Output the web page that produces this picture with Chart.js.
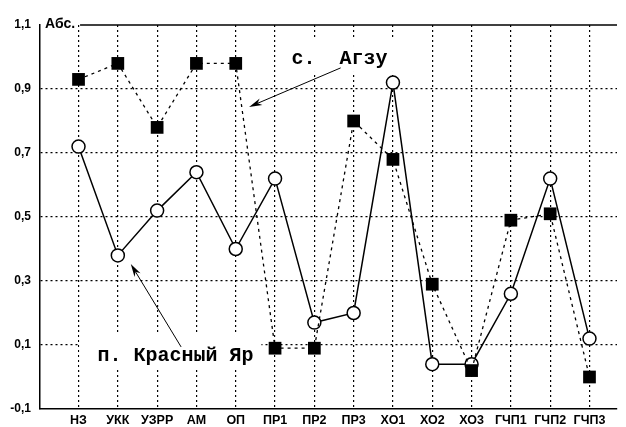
<!DOCTYPE html>
<html><head><meta charset="utf-8">
<script src="https://cdn.jsdelivr.net/npm/chart.js@4"></script>
<style>html,body{margin:0;padding:0;background:#fff;}#wrap{width:626px;height:427px;}</style>
</head><body><div id="wrap"><canvas id="c" width="626" height="427"></canvas></div>
<script>
const categories = ['НЗ','УКК','УЗРР','АМ','ОП','ПР1','ПР2','ПР3','ХО1','ХО2','ХО3','ГЧП1','ГЧП2','ГЧП3'];
const krasnyYar = [0.72,0.38,0.52,0.64,0.40,0.62,0.17,0.20,0.92,0.04,0.04,0.26,0.62,0.12];
const agzu = [0.93,0.98,0.78,0.98,0.98,0.09,0.09,0.80,0.68,0.29,0.02,0.49,0.51,0.00];
const yTicks = [-0.1,0.1,0.3,0.5,0.7,0.9,1.1];
const yLabel = 'Абс.';
const labelAgzu = 'с.  Агзу';
const labelKY = 'п. Красный Яр';

const toPts = arr => arr.map((v,i)=>({x:i,y:v}));

function arrow(ctx,x1,y1,x2,y2){
  const ang=Math.atan2(y2-y1,x2-x1), L=13, W=3.5;
  ctx.beginPath();ctx.moveTo(x1,y1);ctx.lineTo(x2-Math.cos(ang)*L*0.7,y2-Math.sin(ang)*L*0.7);ctx.stroke();
  ctx.beginPath();
  ctx.moveTo(x2,y2);
  ctx.lineTo(x2-L*Math.cos(ang)+W*Math.sin(ang), y2-L*Math.sin(ang)-W*Math.cos(ang));
  ctx.lineTo(x2-L*0.7*Math.cos(ang), y2-L*0.7*Math.sin(ang));
  ctx.lineTo(x2-L*Math.cos(ang)-W*Math.sin(ang), y2-L*Math.sin(ang)+W*Math.cos(ang));
  ctx.closePath();ctx.fill();
}

const deco = {
  id:'deco',
  beforeDatasetsDraw(chart){
    const {ctx,scales:{x,y}}=chart;
    ctx.save();
    ctx.font='bold 20px "Liberation Mono", "Courier New", monospace';
    ctx.textBaseline='middle';ctx.textAlign='left';
    const items=[[labelAgzu,x.getPixelForValue(5.42),y.getPixelForValue(0.997),4],
                 [labelKY,x.getPixelForValue(0.48),y.getPixelForValue(0.069),18]];
    items.forEach(([t,px,py,lp])=>{
      const w=ctx.measureText(t).width;
      ctx.fillStyle='#fff';ctx.fillRect(px-lp,py-20,w+lp+8,34);
      ctx.fillStyle='#000';ctx.fillText(t,px,py+1);
    });
    ctx.restore();
  },
  afterDraw(chart){
    const {ctx,scales:{x,y},chartArea:a}=chart;
    ctx.save();
    ctx.fillStyle='#000';ctx.strokeStyle='#000';
    ctx.font='bold 14px "Liberation Sans", Arial, sans-serif';
    ctx.textBaseline='alphabetic';ctx.textAlign='left';
    ctx.fillText(yLabel,a.left+5,a.top+3);
    const tw=ctx.measureText(yLabel).width;
    ctx.lineWidth=1.5;
    ctx.beginPath();ctx.moveTo(a.left+tw+10,a.top);ctx.lineTo(a.right,a.top);ctx.stroke();
    ctx.lineWidth=1;
    arrow(ctx,x.getPixelForValue(6.67),y.getPixelForValue(0.966),x.getPixelForValue(4.34),y.getPixelForValue(0.844));
    arrow(ctx,x.getPixelForValue(2.61),y.getPixelForValue(0.094),x.getPixelForValue(1.33),y.getPixelForValue(0.353));
    ctx.restore();
  }
};

new Chart(document.getElementById('c'),{
  type:'line',
  data:{datasets:[
    {label:'Агзу',data:toPts(agzu),borderColor:'#000',borderWidth:1.3,borderDash:[3,4],
     pointStyle:'rect',pointRadius:9,pointBackgroundColor:'#000',pointBorderColor:'#000',pointBorderWidth:0,tension:0},
    {label:'Красный Яр',data:toPts(krasnyYar),borderColor:'#000',borderWidth:1.5,
     pointStyle:'circle',pointRadius:6.5,pointBackgroundColor:'#fff',pointBorderColor:'#000',pointBorderWidth:1.5,tension:0}
  ]},
  options:{
    responsive:false,animation:false,devicePixelRatio:1,
    layout:{padding:{top:25,right:1,left:0,bottom:0}},
    plugins:{legend:{display:false},tooltip:{enabled:false}},
    scales:{
      x:{type:'linear',min:-0.98,max:13.7,
        afterBuildTicks(s){s.ticks=categories.map((c,i)=>({value:i}));},
        afterFit(s){s.height=18;},
        ticks:{autoSkip:false,maxRotation:0,padding:4,color:'#000',font:{family:'"Liberation Sans", Arial',size:12.5,weight:'bold'},
          callback:(v)=>categories[v]},
        grid:{color:'#000',lineWidth:1.2,drawTicks:false},
        border:{color:'#000',width:1.5,dash:[2,3]}
      },
      y:{type:'linear',min:-0.1,max:1.1,
        afterBuildTicks(s){s.ticks=yTicks.map(v=>({value:v}));},
        afterFit(s){s.width=40;},
        ticks:{padding:9,color:'#000',font:{family:'"Liberation Sans", Arial',size:12,weight:'bold'},
          callback:(v)=>String(Math.round(v*10)/10).replace('.',',')},
        grid:{color:(c)=>(c.tick && (Math.abs(c.tick.value-1.1)<1e-6||Math.abs(c.tick.value+0.1)<1e-6))?'rgba(0,0,0,0)':'#000',lineWidth:1.2,drawTicks:false},
        border:{color:'#000',width:1.5,dash:[2,3]}
      }
    }
  },
  plugins:[deco]
});
</script></body></html>
